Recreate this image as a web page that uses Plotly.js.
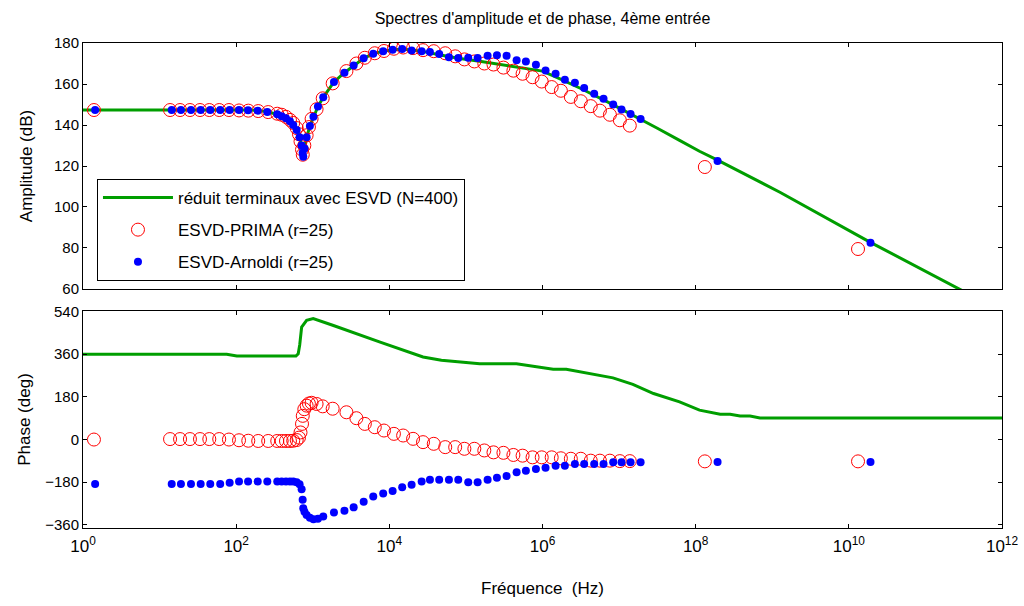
<!DOCTYPE html>
<html>
<head>
<meta charset="utf-8">
<script src="https://cdn.plot.ly/plotly-3.0.1.min.js"></script>
<style>html,body{margin:0;padding:0;background:#fff;}#chart{width:1024px;height:606px;}</style>
</head>
<body>
<div id="chart"></div>
<script>
// ---- Data ----
// Reduced model, ESVD (N=400): amplitude curve
const greenAmpFreq = [1, 158, 251, 355, 447, 537, 617, 676, 716, 750, 776, 832, 918, 1021, 1169, 1371, 1892, 2594, 3420, 4624, 6166, 8318, 10960, 14790, 19950, 28180, 44670, 79430, 158500, 316200, 631000, 1e6, 1.585e6, 3.162e6, 7.943e6, 1.585e7, 3.162e7, 6.166e7, 1.122e8, 1.905e8, 8.71e8, 1.259e9, 1.862e10, 2.818e11, 1e12];
const greenAmpDb = [147.3, 147.3, 146.6, 145, 143.4, 141, 137.7, 134, 130, 125, 128, 134, 139.5, 144, 149, 153.5, 161, 165.5, 169, 172.5, 174.8, 176, 176.7, 177, 176.6, 175.8, 174.3, 172.6, 171, 169.3, 167.8, 166.3, 163, 157.8, 150.3, 144.5, 138.4, 132.5, 127.2, 123, 110, 107.2, 83, 60.3, 49];
// Reduced model, ESVD (N=400): phase curve
const greenPhaseFreq = [1, 75.2, 102, 603, 646, 676, 716, 832, 1014, 1445, 1862, 7586, 15140, 27540, 47860, 87100, 151400, 457100, 691800, 1.380e6, 2.042e6, 4.571e6, 8.318e6, 1.514e7, 2.818e7, 6.166e7, 1.122e8, 2.089e8, 2.818e8, 3.802e8, 5.129e8, 6.918e8, 1e12];
const greenPhaseDeg = [360, 360, 352, 352, 362, 400, 474, 503, 510, 495, 481, 411, 376, 348, 334, 327, 320, 320, 310, 296, 296, 275, 260, 233, 194, 159, 124, 107, 107, 99, 99, 91, 91];

// ESVD-PRIMA (r=25)
const primaFreq = [1.39, 13.7, 18.5, 24.9, 33.7, 44.6, 60.1, 80.5, 109, 144, 194, 262, 344, 393, 447, 504, 556, 617, 661, 692, 724, 741, 776, 832, 891, 966, 1122, 1349, 1820, 2754, 3715, 4786, 6457, 8511, 11480, 15140, 20420, 27540, 38020, 53700, 72440, 95500, 128800, 173800, 229100, 309000, 416900, 549500, 741300, 977200, 1.318e6, 1.738e6, 2.344e6, 3.162e6, 4.266e6, 5.623e6, 7.586e6, 1.023e7, 1.380e7, 1.318e8, 1.318e10];
const primaAmp = [147.3, 147.3, 147.3, 147.3, 147.3, 147.3, 147.3, 147.3, 147.1, 147, 146.8, 146.3, 145.5, 145, 144, 142.5, 141, 138.5, 135.5, 132, 128, 125.5, 130, 135, 139, 143, 147.7, 153, 160.3, 166.3, 170, 172.8, 175, 176.1, 177.2, 177.8, 177.5, 176.5, 176, 175, 173.5, 172, 171, 170, 169.5, 168, 166.5, 165, 163.3, 161.2, 158.5, 156.7, 153.7, 151.6, 149.2, 147, 145, 142.3, 139.7, 119.5, 79.5];
const primaPhase = [0, 2, 2, 2, 2, 2, 2, 0, -3, -5, -6, -6, -6, -6, -6, -6, -5, -2, 8, 30, 66, 100, 128, 143, 152, 155, 150, 140, 130, 115, 90, 66, 52, 38, 24, 17, 3, -11, -18, -32, -32, -39, -39, -46, -54, -56, -65, -68, -75, -75, -75, -79, -81, -81, -89, -89, -89, -91, -91, -92, -92];

// ESVD-Arnoldi (r=25)
const arnoldiFreq = [1.44, 14.4, 19.0, 25.7, 34.4, 45.9, 61.9, 82.2, 109, 143, 191, 255, 344, 393, 447, 504, 556, 617, 673, 716, 738, 752, 780, 832, 918, 1021, 1169, 1371, 1892, 2594, 3420, 4624, 6166, 8318, 11040, 14720, 19540, 26420, 33880, 44770, 59980, 79430, 107200, 142200, 191900, 254100, 339600, 459200, 606700, 820400, 1.096e6, 1.483e6, 1.959e6, 2.649e6, 3.499e6, 4.732e6, 6.266e6, 8.375e6, 1.076e7, 1.413e7, 1.910e7, 1.932e8, 1.919e10];
const arnoldiAmp = [147.3, 147.3, 147.3, 147.3, 147.3, 147.3, 147.3, 147.3, 147.3, 147.2, 147, 146.4, 145.2, 144.3, 143.3, 141.8, 140, 137.5, 134, 130, 126.5, 124.5, 128.5, 134, 139.5, 144, 149, 153.5, 161, 165.5, 169, 172.5, 174.8, 176, 176.7, 177.1, 176.4, 176, 175.6, 174.6, 173, 172.7, 172.8, 172.7, 173.8, 174, 173.8, 171.6, 171, 169.4, 166.6, 165, 162.1, 160.6, 158, 155.2, 152.8, 150, 147.5, 145.4, 142.9, 122.4, 82.5];
const arnoldiPhase = [-187, -187, -187, -187, -187, -187, -187, -182, -177, -177, -177, -177, -177, -177, -177, -177, -177, -180, -188, -210, -254, -290, -305, -318, -330, -336, -334, -325, -308, -300, -286, -262, -240, -228, -217, -201, -191, -177, -170, -170, -170, -170, -180, -180, -170, -161, -154, -138, -132, -124, -119, -110, -110, -103, -103, -103, -103, -96, -96, -96, -96, -95, -95];

// Tick labels
const freqTickVals = [1, 1e2, 1e4, 1e6, 1e8, 1e10, 1e12];
const freqTickText = ['10<sup>0</sup>', '10<sup>2</sup>', '10<sup>4</sup>', '10<sup>6</sup>', '10<sup>8</sup>', '10<sup>10</sup>', '10<sup>12</sup>'];
const ampTickVals = [60, 80, 100, 120, 140, 160, 180];
const phaseTickVals = [-360, -180, 0, 180, 360, 540];

const names = ['réduit terminaux avec ESVD (N=400)', 'ESVD-PRIMA (r=25)', 'ESVD-Arnoldi (r=25)'];

// ---- Plot ----
const GREEN = '#009e00', RED = '#ff0000', BLUE = '#0000ff';
const FONT = 'Liberation Sans, Arial, sans-serif';

const traces = [
  {x: greenAmpFreq, y: greenAmpDb, xaxis: 'x2', yaxis: 'y2', mode: 'lines', name: names[0],
   line: {color: GREEN, width: 3}, legendgroup: 'g1', showlegend: true},
  {x: primaFreq, y: primaAmp, xaxis: 'x2', yaxis: 'y2', mode: 'markers', name: names[1],
   marker: {symbol: 'circle-open', size: 13, color: RED, line: {width: 1, color: RED}}, legendgroup: 'g2', showlegend: true},
  {x: arnoldiFreq, y: arnoldiAmp, xaxis: 'x2', yaxis: 'y2', mode: 'markers', name: names[2],
   marker: {symbol: 'circle', size: 8, color: BLUE}, legendgroup: 'g3', showlegend: true},
  {x: greenPhaseFreq, y: greenPhaseDeg, xaxis: 'x', yaxis: 'y', mode: 'lines', name: names[0],
   line: {color: GREEN, width: 3}, legendgroup: 'g1', showlegend: false},
  {x: primaFreq, y: primaPhase, xaxis: 'x', yaxis: 'y', mode: 'markers', name: names[1],
   marker: {symbol: 'circle-open', size: 13, color: RED, line: {width: 1, color: RED}}, legendgroup: 'g2', showlegend: false},
  {x: arnoldiFreq, y: arnoldiPhase, xaxis: 'x', yaxis: 'y', mode: 'markers', name: names[2],
   marker: {symbol: 'circle', size: 8, color: BLUE}, legendgroup: 'g3', showlegend: false}
];

const axCommon = {
  showline: true, linecolor: '#000', linewidth: 1, mirror: 'ticks',
  ticks: 'inside', ticklen: 4, tickcolor: '#000', tickwidth: 1,
  showgrid: false, zeroline: false, tickfont: {family: FONT, size: 15, color: '#000'}
};

const layout = {
  width: 1024, height: 606,
  paper_bgcolor: '#fff', plot_bgcolor: '#fff',
  margin: {l: 83, r: 22, t: 43, b: 78},
  font: {family: FONT, color: '#000', size: 15},
  title: {text: "Spectres d'amplitude et de phase, 4ème entrée", font: {family: FONT, size: 16, color: '#000'},
          x: 0.5, xref: 'paper', xanchor: 'center', y: 1 - 18 / 606, yref: 'container', yanchor: 'middle'},
  xaxis: Object.assign({}, axCommon, {
    type: 'log', range: [0, 12], anchor: 'y', domain: [0, 1],
    tickmode: 'array', tickvals: freqTickVals, ticktext: freqTickText,
    tickfont: {family: FONT, size: 17, color: '#000'}, ticklabelstandoff: 3,
    title: {text: 'Fréquence  (Hz)', font: {family: FONT, size: 17, color: '#000'}, standoff: 26}
  }),
  xaxis2: Object.assign({}, axCommon, {
    type: 'log', range: [0, 12], anchor: 'y2', domain: [0, 1], matches: 'x',
    tickmode: 'array', tickvals: freqTickVals, showticklabels: false
  }),
  yaxis: Object.assign({}, axCommon, {
    domain: [0, 0.4474], anchor: 'x', range: [-373, 542],
    tickmode: 'array', tickvals: phaseTickVals,
    title: {text: 'Phase (deg)', font: {family: FONT, size: 17, color: '#000'}, standoff: 10}
  }),
  yaxis2: Object.assign({}, axCommon, {
    domain: [0.4928, 1], anchor: 'x2', range: [60, 180],
    tickmode: 'array', tickvals: ampTickVals,
    title: {text: 'Amplitude (dB)', font: {family: FONT, size: 17, color: '#000'}, standoff: 17}
  }),
  showlegend: true,
  legend: {
    x: 0.0152, y: 0.7196, xanchor: 'left', yanchor: 'top', xref: 'paper', yref: 'paper',
    bordercolor: '#000', borderwidth: 1, bgcolor: '#fff',
    font: {family: FONT, size: 17, color: '#000'},
    itemwidth: 70, tracegroupgap: 7, traceorder: 'grouped'
  }
};

Plotly.newPlot('chart', traces, layout, {displayModeBar: false, staticPlot: true});
</script>
</body>
</html>
